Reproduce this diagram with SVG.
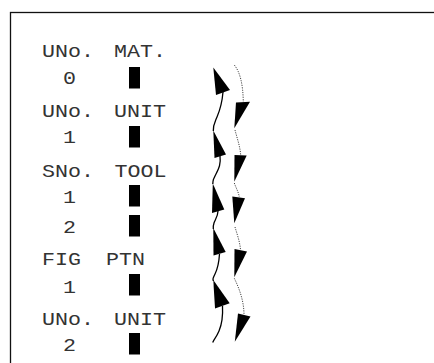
<svg xmlns="http://www.w3.org/2000/svg" width="434" height="363" viewBox="0 0 434 363">
  <style>
    .frame { fill: #fff; stroke: #111; stroke-width: 1.3; }
    .lbl { font-family: "Liberation Mono", "DejaVu Sans Mono", monospace; font-size: 18px; fill: #333; }
    .bar { fill: #000; }
    .up { fill: none; stroke: #000; stroke-width: 1.3; }
    .down { fill: none; stroke: #444; stroke-width: 1; stroke-dasharray: 1.2 1.2; }
    .head { fill: #000; stroke: none; }
  </style>
  <rect width="434" height="363" fill="#fff"/>
  <rect class="frame" x="10.5" y="12.5" width="430" height="360"/>

  <!-- stacked entries: caption line, value line, status bar -->
  <g id="entry-mat">
    <text class="lbl" x="42" y="57" textLength="52" lengthAdjust="spacingAndGlyphs">UNo.</text>
    <text class="lbl" x="114" y="57" textLength="52" lengthAdjust="spacingAndGlyphs">MAT.</text>
    <text class="lbl" x="63" y="84" textLength="13" lengthAdjust="spacingAndGlyphs">0</text>
    <rect class="bar" x="129" y="67" width="11" height="21.5"/>
  </g>
  <g id="entry-unit-1">
    <text class="lbl" x="42" y="116.7" textLength="52" lengthAdjust="spacingAndGlyphs">UNo.</text>
    <text class="lbl" x="114" y="116.7" textLength="52" lengthAdjust="spacingAndGlyphs">UNIT</text>
    <text class="lbl" x="63" y="143.3" textLength="13" lengthAdjust="spacingAndGlyphs">1</text>
    <rect class="bar" x="129" y="126" width="11" height="21.5"/>
  </g>
  <g id="entry-tool">
    <text class="lbl" x="42" y="176.7" textLength="52" lengthAdjust="spacingAndGlyphs">SNo.</text>
    <text class="lbl" x="114.5" y="176.7" textLength="52" lengthAdjust="spacingAndGlyphs">TOOL</text>
    <text class="lbl" x="63" y="203.3" textLength="13" lengthAdjust="spacingAndGlyphs">1</text>
    <rect class="bar" x="129" y="185" width="11" height="21.5"/>
    <text class="lbl" x="63" y="233.3" textLength="13" lengthAdjust="spacingAndGlyphs">2</text>
    <rect class="bar" x="129" y="215" width="11" height="21.5"/>
  </g>
  <g id="entry-ptn">
    <text class="lbl" x="42" y="265" textLength="39" lengthAdjust="spacingAndGlyphs">FIG</text>
    <text class="lbl" x="106" y="265" textLength="39" lengthAdjust="spacingAndGlyphs">PTN</text>
    <text class="lbl" x="63" y="292.7" textLength="13" lengthAdjust="spacingAndGlyphs">1</text>
    <rect class="bar" x="129" y="274" width="11" height="21.5"/>
  </g>
  <g id="entry-unit-2">
    <text class="lbl" x="42" y="325" textLength="52" lengthAdjust="spacingAndGlyphs">UNo.</text>
    <text class="lbl" x="114" y="325" textLength="52" lengthAdjust="spacingAndGlyphs">UNIT</text>
    <text class="lbl" x="63" y="351" textLength="13" lengthAdjust="spacingAndGlyphs">2</text>
    <rect class="bar" x="129" y="333" width="11" height="21.5"/>
  </g>

  <g id="connectors">
    <!-- upward chain, solid -->
    <path class="up" d="M223,92 C222,104 220,110 217,117 S213,125 213.3,131"/>
    <path class="up" d="M220,156 C221,164 219,168 216,174 S213,180 212.8,184"/>
    <path class="up" d="M218,211 C218,216 215,220 214,223 S213,226 213.3,229"/>
    <path class="up" d="M219.5,254 C219,262 218,268 215,274 S213,278 213.3,281"/>
    <path class="up" d="M222.5,306 C223,316 222,324 219,331 S214,339 212.7,342.5"/>
    <polygon class="head" points="213.3,67.5 216,95 230,90"/>
    <polygon class="head" points="213.3,130.5 214.5,158 226,154.5"/>
    <polygon class="head" points="212.8,183.5 212,213 224.3,209.5"/>
    <polygon class="head" points="213.3,228 213.5,255.5 225.7,252"/>
    <polygon class="head" points="213.3,280 215,308.5 229.7,303.3"/>

    <!-- downward chain, dotted -->
    <path class="down" d="M234.3,65 C240,72 243,84 243.3,102"/>
    <path class="down" d="M235,130 C237,138 240,146 240.7,155"/>
    <path class="down" d="M234.3,183 C236,188 238.5,192 239.3,197"/>
    <path class="down" d="M235,227 C237,234 240,242 240.5,250"/>
    <path class="down" d="M234.3,278.3 C240,290 244,302 244,315"/>
    <polygon class="head" points="236,102.5 250,101.7 234.3,128.3"/>
    <polygon class="head" points="234.5,155 246.7,155.5 234.3,181.7"/>
    <polygon class="head" points="232.3,196.5 245,198.3 234.3,223.3"/>
    <polygon class="head" points="234.5,249 247,251.5 234.3,277.3"/>
    <polygon class="head" points="238,313.5 250.5,316.5 234.8,341.7"/>
  </g>
</svg>
